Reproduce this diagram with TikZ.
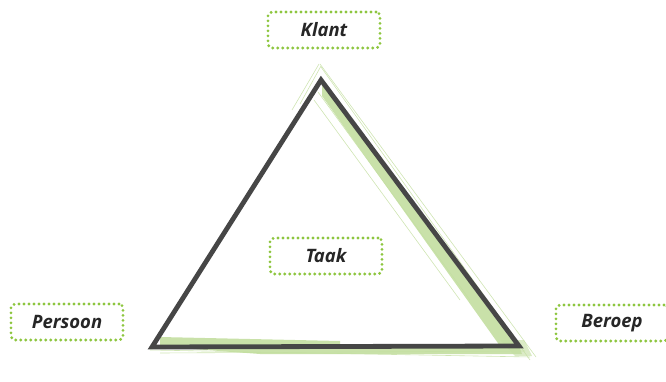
\documentclass[tikz,border=0pt]{standalone}
\usepackage{fontspec}
\setmainfont{Open Sans}
\begin{document}
\begin{tikzpicture}[x=1pt,y=-1pt,
  lbl/.style={draw=dotgreen, line width=3.1pt, dash pattern=on 0pt off 5pt, line cap=round,
    rounded corners=4pt, font=\fontsize{18.5}{21}\selectfont\bfseries\itshape, text=black!85,
    minimum width=112pt, minimum height=36pt, inner sep=0pt},
  sketch/.style={draw=lightgreen, line width=0.6pt, opacity=0.8}]
\definecolor{dotgreen}{HTML}{8DC63F}
\definecolor{lightgreen}{HTML}{C3DEA0}
\definecolor{darkgray}{HTML}{464646}
\useasboundingbox (0,0) rectangle (666,382);
% sketch strokes
\fill[lightgreen, opacity=0.9] (322,84) -- (322,96) -- (500,346) -- (516,346) -- cycle;
\fill[lightgreen, opacity=0.9] (160,337) -- (340,341) -- (340,345) -- (160,345) -- cycle;
\fill[lightgreen, opacity=0.9] (180,348) -- (519,346) -- (522,354) -- (260,354) -- cycle;
\fill[lightgreen, opacity=0.6] (500,340) -- (524,340) -- (532,356) -- (515,356) -- cycle;
\draw[sketch] (320,64) -- (536,357);
\draw[sketch] (321,67) -- (530,360);
\draw[sketch] (318,92) -- (470,300);
\draw[sketch] (314,100) -- (460,300);
\draw[sketch] (319,64) -- (292,110);
\draw[sketch] (321,66) -- (300,104);
\draw[sketch] (150,350) -- (530,357);
\draw[sketch] (160,353) -- (525,351);
% triangle
\coordinate (A) at (321,80);
\coordinate (B) at (152,347);
\coordinate (C) at (519,346);
\draw[darkgray, line width=4.8pt, line join=miter] (A) -- (B) -- (C) -- cycle;
% labels
\node[lbl] (klant) at (324,30) {Klant};
\node[lbl] (taak) at (326,256) {Taak};
\node[lbl] (persoon) at (67,322) {Persoon};
\node[lbl] (beroep) at (612,323) {Beroep};
\end{tikzpicture}
\end{document}
